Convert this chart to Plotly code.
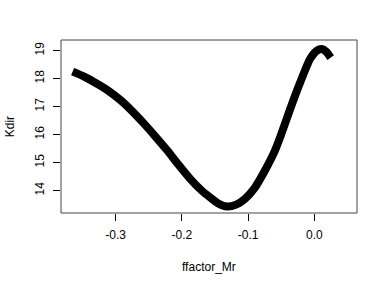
import plotly.graph_objects as go

ffactor_Mr = [-0.365, -0.349, -0.3333, -0.313, -0.2931, -0.2755, -0.2579, -0.2403, -0.2226,
              -0.205, -0.1875, -0.170, -0.157, -0.145, -0.132, -0.118, -0.105, -0.090,
              -0.075, -0.060, -0.0517, -0.0367, -0.0216, -0.0065, 0.004, 0.0112, 0.018, 0.0247]
Kdir = [18.25, 18.09, 17.89, 17.60, 17.24, 16.85, 16.41, 15.94, 15.45,
        14.92, 14.42, 14.00, 13.75, 13.54, 13.43, 13.50, 13.70, 14.10,
        14.70, 15.40, 15.90, 16.90, 17.85, 18.70, 19.00, 19.06, 18.96, 18.75]

x_ticks = [-0.3, -0.2, -0.1, 0.0]
x_labels = ["-0.3", "-0.2", "-0.1", "0.0"]
y_ticks = [14, 15, 16, 17, 18, 19]

fig = go.Figure()
fig.add_trace(go.Scatter(x=ffactor_Mr, y=Kdir, mode="lines",
                         line=dict(color="black", width=8, shape="spline", smoothing=0.6),
                         showlegend=False, hoverinfo="skip"))

font = dict(family="Liberation Sans, Arial, sans-serif", size=12, color="black")
fig.update_layout(
    width=383, height=285,
    margin=dict(l=61, r=26, t=40, b=72),
    paper_bgcolor="white", plot_bgcolor="white",
    font=font,
    xaxis=dict(range=[-0.3825, 0.0644], tickvals=x_ticks, ticktext=x_labels,
               ticks="outside", ticklen=7, tickcolor="black", tickwidth=1,
               showgrid=False, zeroline=False, showline=False,
               ticklabelstandoff=4, tickfont=font),
    yaxis=dict(range=[13.20, 19.38], tickvals=y_ticks,
               ticks="outside", ticklen=7, tickcolor="black", tickwidth=1,
               showgrid=False, zeroline=False, showline=False, tickangle=-90,
               ticklabelstandoff=4, tickfont=font),
    shapes=[dict(type="rect", xref="paper", yref="paper", x0=0, x1=1, y0=0, y1=1,
                 line=dict(color="#444", width=1))],
    annotations=[
        dict(text="ffactor_Mr", xref="paper", yref="paper", x=0.5, y=-0.312,
             xanchor="center", yanchor="middle", showarrow=False, font=font),
        dict(text="Kdir", xref="paper", yref="paper", x=-0.173, y=0.5, textangle=-90,
             xanchor="center", yanchor="middle", showarrow=False, font=font),
    ],
)
fig.write_html("out.html", config={"displayModeBar": False},
               post_script="document.body.style.margin='0';document.body.style.overflow='hidden';")
